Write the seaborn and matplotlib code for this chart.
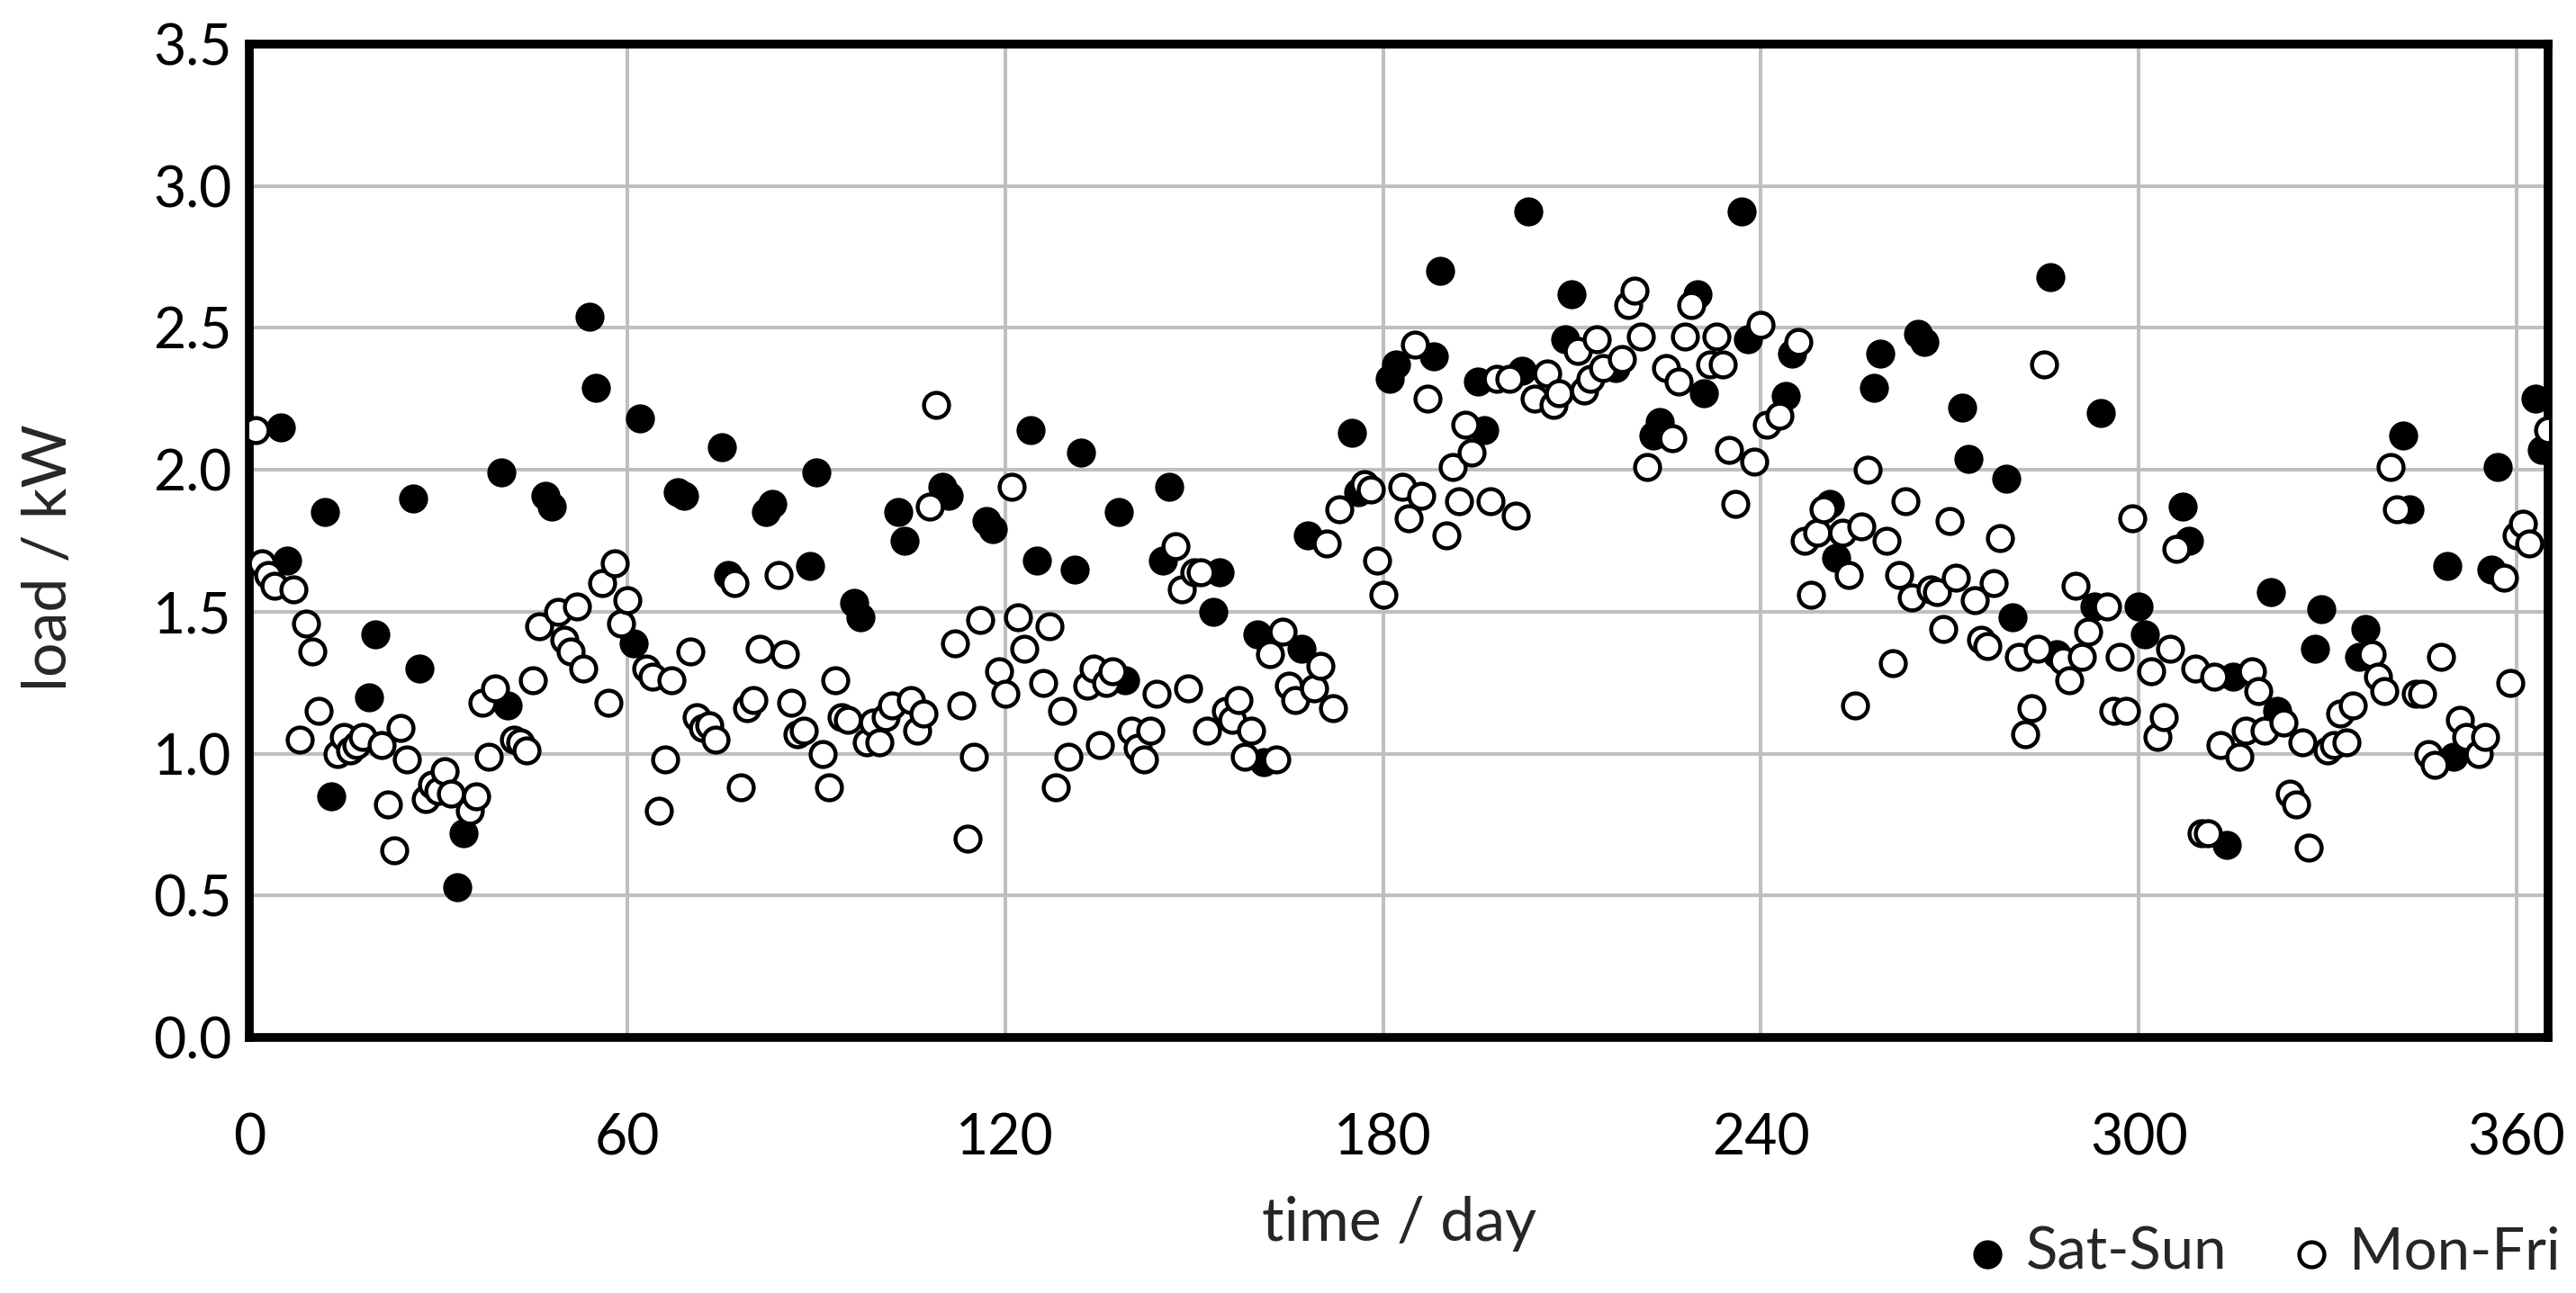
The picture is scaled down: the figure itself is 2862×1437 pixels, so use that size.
import numpy as np
import pandas as pd
import matplotlib
matplotlib.use("Agg")
import matplotlib.pyplot as plt
import seaborn as sns

# Tageslast (Tag im Jahr, Last in kW)
sat_sun_day = [
    5, 6, 12, 13, 19, 20, 26, 27, 33, 34, 40, 41, 47, 48, 54, 55,
    61, 62, 68, 69, 75, 76, 82, 83, 89, 90, 96, 97, 103, 104, 110, 111,
    117, 118, 124, 125, 131, 132, 138, 139, 145, 146, 153, 154, 160, 161,
    167, 168, 175, 176, 181, 182, 188, 189, 195, 196, 202, 203, 209, 210,
    217, 223, 224, 230, 231, 237, 238, 244, 245, 251, 252, 258, 259,
    265, 266, 272, 273, 279, 280, 286, 287, 293, 294, 300, 301, 307, 308,
    314, 315, 321, 322, 328, 329, 335, 336, 342, 343, 349, 350, 356, 357,
    363, 364,
]
sat_sun_load = [
    2.15, 1.68, 1.85, 0.85, 1.20, 1.42, 1.90, 1.30, 0.53, 0.72, 1.99, 1.17, 1.91, 1.87, 2.54, 2.29,
    1.39, 2.18, 1.92, 1.91, 2.08, 1.63, 1.85, 1.88, 1.66, 1.99, 1.53, 1.48, 1.85, 1.75, 1.94, 1.91,
    1.82, 1.79, 2.14, 1.68, 1.65, 2.06, 1.85, 1.26, 1.68, 1.94, 1.50, 1.64, 1.42, 0.97,
    1.37, 1.77, 2.13, 1.92, 2.32, 2.37, 2.40, 2.70, 2.31, 2.14, 2.35, 2.91, 2.46, 2.62,
    2.36, 2.12, 2.17, 2.62, 2.27, 2.91, 2.46, 2.26, 2.41, 1.88, 1.69, 2.29, 2.41,
    2.48, 2.45, 2.22, 2.04, 1.97, 1.48, 2.68, 1.35, 1.52, 2.20, 1.52, 1.42, 1.87, 1.75,
    0.68, 1.27, 1.57, 1.15, 1.37, 1.51, 1.34, 1.44, 2.12, 1.86, 1.66, 0.99, 1.65, 2.01,
    2.25, 2.07,
]

mon_fri_day = [
    1, 2, 3, 4, 7, 8, 9, 10, 11,
    14, 15, 16, 17, 18, 21, 22, 23, 24, 25,
    28, 29, 30, 31, 32, 35, 36, 37, 38, 39,
    42, 43, 44, 45, 46, 49, 50, 51, 52, 53,
    56, 57, 58, 59, 60, 63, 64, 65, 66, 67,
    70, 71, 72, 73, 74, 77, 78, 79, 80, 81,
    84, 85, 86, 87, 88, 91, 92, 93, 94, 95,
    98, 99, 100, 101, 102, 105, 106, 107, 108, 109,
    112, 113, 114, 115, 116, 119, 120, 121, 122, 123,
    126, 127, 128, 129, 130, 133, 134, 135, 136, 137,
    140, 141, 142, 143, 144, 147, 148, 149, 150, 151, 152,
    155, 156, 157, 158, 159, 162, 163, 164, 165, 166,
    169, 170, 171, 172, 173, 177, 178, 179, 180,
    183, 184, 185, 186, 187, 190, 191, 192, 193, 194,
    197, 198, 200, 201, 204, 206, 207, 208,
    211, 212, 213, 214, 215, 218, 219, 220, 221, 222,
    225, 226, 227, 228, 229, 232, 233, 234, 235, 236,
    239, 240, 241, 243, 246, 247, 248, 249, 250,
    253, 254, 255, 256, 257, 260, 261, 262, 263, 264,
    267, 268, 269, 270, 271, 274, 275, 276, 277, 278,
    281, 282, 283, 284, 285, 288, 289, 290, 291, 292,
    295, 296, 297, 298, 299, 302, 303, 304, 305, 306,
    309, 310, 311, 312, 313, 316, 317, 318, 319, 320,
    323, 324, 325, 326, 327, 330, 331, 332, 333, 334,
    337, 338, 339, 340, 341, 344, 345, 346, 347, 348,
    351, 352, 354, 355, 358, 359, 360, 361, 362, 365,
]
mon_fri_load = [
    2.14, 1.67, 1.63, 1.59, 1.58, 1.05, 1.46, 1.36, 1.15,
    1.00, 1.06, 1.01, 1.03, 1.06, 1.03, 0.82, 0.66, 1.09, 0.98,
    0.84, 0.89, 0.87, 0.94, 0.86, 0.80, 0.85, 1.18, 0.99, 1.23,
    1.05, 1.04, 1.01, 1.26, 1.45, 1.50, 1.40, 1.36, 1.52, 1.30,
    1.60, 1.18, 1.67, 1.46, 1.54, 1.30, 1.27, 0.80, 0.98, 1.26,
    1.36, 1.13, 1.09, 1.10, 1.05, 1.60, 0.88, 1.16, 1.19, 1.37,
    1.63, 1.35, 1.18, 1.07, 1.08, 1.00, 0.88, 1.26, 1.13, 1.12,
    1.04, 1.11, 1.04, 1.13, 1.17, 1.19, 1.08, 1.14, 1.87, 2.23,
    1.39, 1.17, 0.70, 0.99, 1.47, 1.29, 1.21, 1.94, 1.48, 1.37,
    1.25, 1.45, 0.88, 1.15, 0.99, 1.24, 1.30, 1.03, 1.25, 1.29,
    1.08, 1.02, 0.98, 1.08, 1.21, 1.73, 1.58, 1.23, 1.64, 1.64, 1.08,
    1.15, 1.12, 1.19, 0.99, 1.08, 1.35, 0.98, 1.43, 1.24, 1.19,
    1.23, 1.31, 1.74, 1.16, 1.86, 1.95, 1.93, 1.68, 1.56,
    1.94, 1.83, 2.44, 1.91, 2.25, 1.77, 2.01, 1.89, 2.16, 2.06,
    1.89, 2.32, 2.32, 1.84, 2.25, 2.34, 2.23, 2.27,
    2.42, 2.28, 2.32, 2.46, 2.36, 2.39, 2.58, 2.63, 2.47, 2.01,
    2.36, 2.11, 2.31, 2.47, 2.58, 2.37, 2.47, 2.37, 2.07, 1.88,
    2.03, 2.51, 2.16, 2.19, 2.45, 1.75, 1.56, 1.78, 1.86,
    1.78, 1.63, 1.17, 1.80, 2.00, 1.75, 1.32, 1.63, 1.89, 1.55,
    1.58, 1.57, 1.44, 1.82, 1.62, 1.54, 1.40, 1.38, 1.60, 1.76,
    1.34, 1.07, 1.16, 1.37, 2.37, 1.33, 1.26, 1.59, 1.34, 1.43,
    1.52, 1.15, 1.34, 1.15, 1.83, 1.29, 1.06, 1.13, 1.37, 1.72,
    1.30, 0.72, 0.72, 1.27, 1.03, 0.99, 1.08, 1.29, 1.22, 1.08,
    1.11, 0.86, 0.82, 1.04, 0.67, 1.01, 1.03, 1.14, 1.04, 1.17,
    1.35, 1.27, 1.22, 2.01, 1.86, 1.21, 1.21, 1.00, 0.96, 1.34,
    1.12, 1.06, 1.00, 1.06, 1.62, 1.25, 1.77, 1.81, 1.74, 2.14,
]

x_ticks = [0, 60, 120, 180, 240, 300, 360]
y_ticks = [0.0, 0.5, 1.0, 1.5, 2.0, 2.5, 3.0, 3.5]

assert len(sat_sun_day) == len(sat_sun_load)
assert len(mon_fri_day) == len(mon_fri_load)

df_we = pd.DataFrame({"day": sat_sun_day, "load": sat_sun_load})
df_wd = pd.DataFrame({"day": mon_fri_day, "load": mon_fri_load})

sns.set_theme(style="white")
plt.rcParams["font.family"] = ["Lato", "DejaVu Sans"]

fig = plt.figure(figsize=(28.62, 14.37), dpi=100)
ax = fig.add_axes([0.0968, 0.1976, 0.8924, 0.7683])

# Wochenende zuerst, Werktage liegen obendrauf
sns.scatterplot(data=df_we, x="day", y="load", ax=ax, s=540, color="black",
                edgecolor="black", linewidth=0, label="Sat-Sun", zorder=3)
sns.scatterplot(data=df_wd, x="day", y="load", ax=ax, s=400, facecolor="white",
                edgecolor="black", linewidth=3.2, label="Mon-Fri", zorder=4)

ax.set_xlim(0, 365)
ax.set_ylim(0, 3.5)
ax.set_xticks(x_ticks)
ax.set_yticks(y_ticks)
ax.set_yticklabels([f"{v:.1f}" for v in y_ticks])
ax.grid(True, color="#BFBFBF", linewidth=2.9)
ax.set_axisbelow(True)
ax.tick_params(axis="both", length=0, labelsize=45, colors="black")
ax.tick_params(axis="x", pad=60)
ax.tick_params(axis="y", pad=14)
for sp in ax.spines.values():
    sp.set_visible(True)
    sp.set_color("black")
    sp.set_linewidth(7)

ax.set_xlabel("time / day", fontsize=49)
ax.set_ylabel("load / kW", fontsize=49)
ax.xaxis.set_label_coords(0.5, -0.1875)
ax.xaxis.label.set_va("center")
ax.yaxis.set_label_coords(-0.087, 0.483)
ax.yaxis.label.set_va("center")

handles, labels = ax.get_legend_handles_labels()
if ax.get_legend() is not None:
    ax.get_legend().remove()
fig.legend(handles, labels, loc="center right", bbox_to_anchor=(0.994, 0.031),
           ncol=2, frameon=False, fontsize=47, markerscale=1.0,
           borderpad=0, borderaxespad=0,
           handletextpad=0.4, columnspacing=1.18, handlelength=0.5)

fig.savefig("out.png", dpi=100, facecolor="white")
